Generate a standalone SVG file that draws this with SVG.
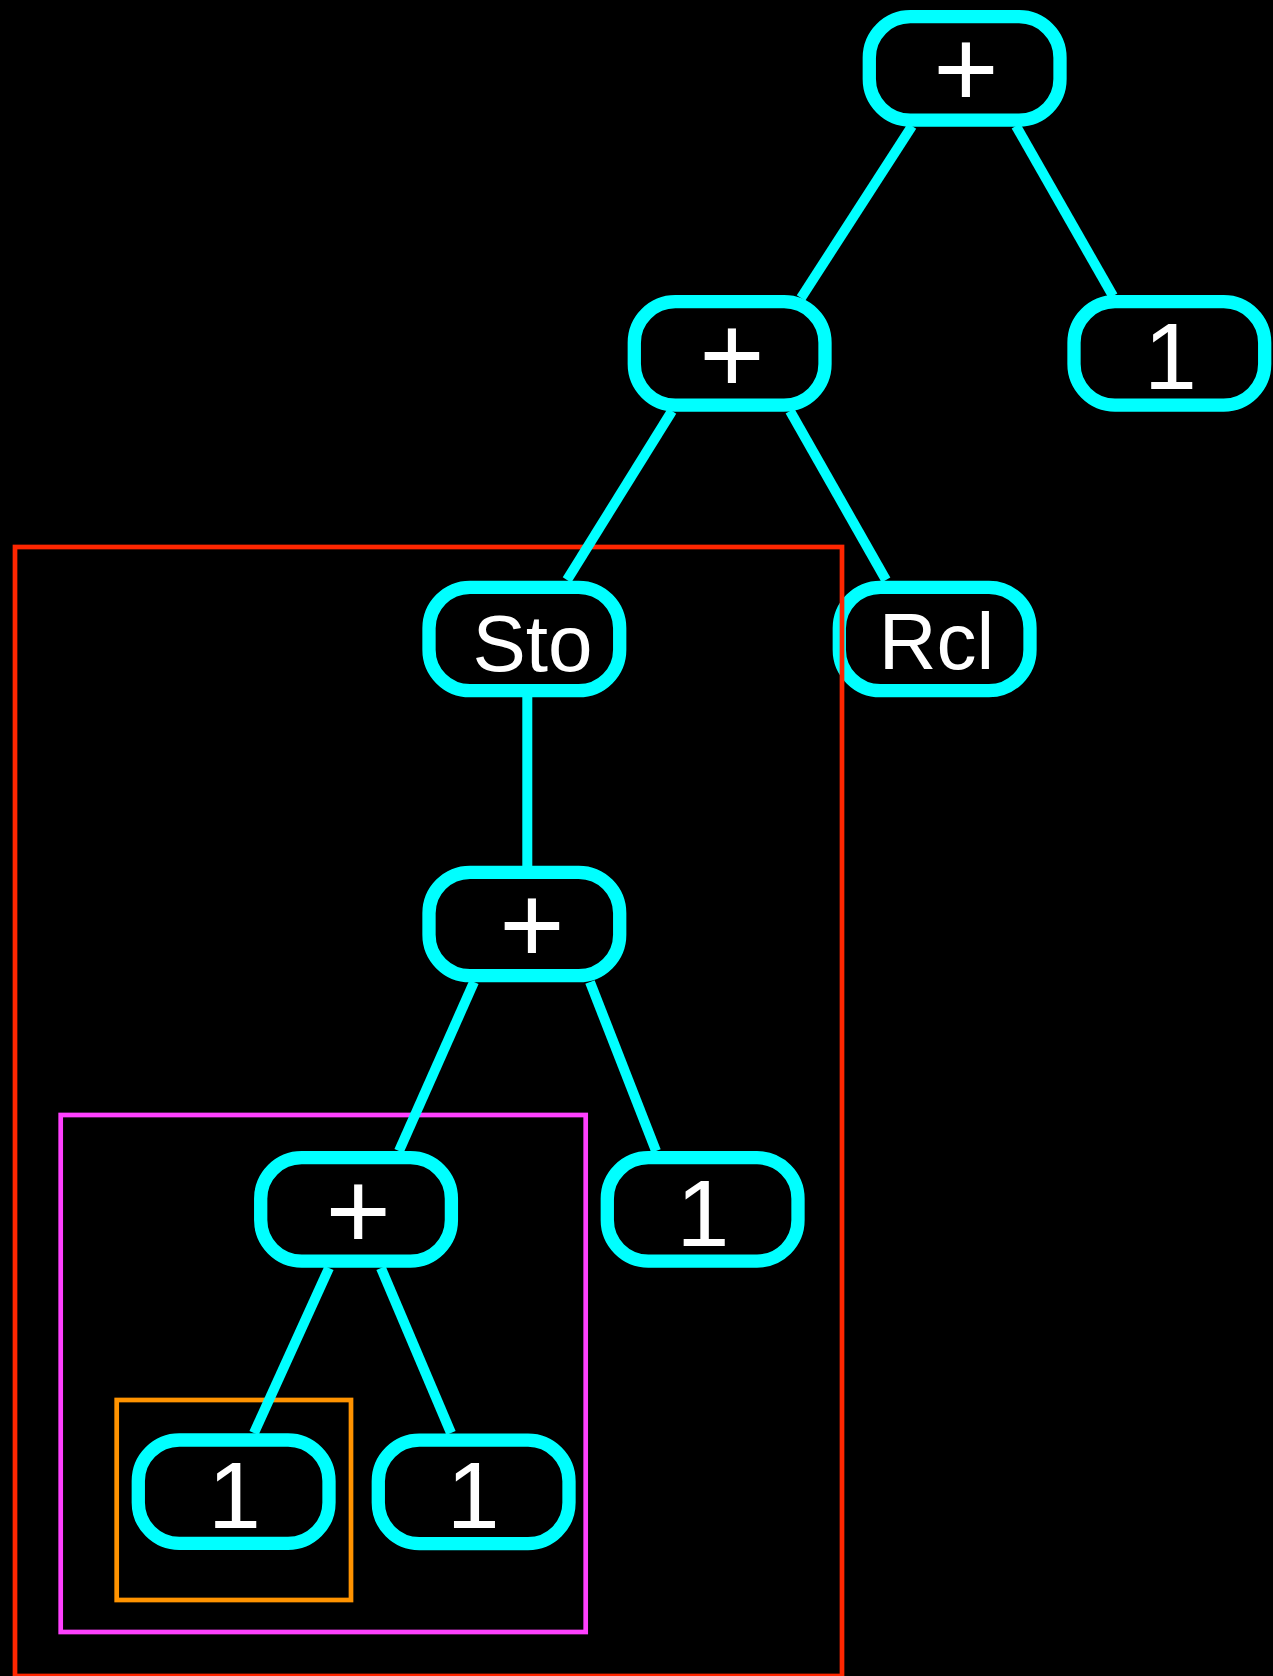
<svg xmlns="http://www.w3.org/2000/svg" width="1273" height="1676" viewBox="0 0 1273 1676">
<style>
.node rect{fill:#000;stroke:#00FFFF;stroke-width:13.3}
.node text{fill:#fff;font-family:"Liberation Sans",Arial,sans-serif;text-anchor:middle}
.op{font-size:112px}
.num{font-size:95px}
.word{font-size:80px}
.edge{stroke:#00FFFF;stroke-width:10;fill:none}
.box{fill:none;stroke-width:4.7}
</style>
<rect x="0" y="0" width="1273" height="1676" fill="#000"/>
<g id="node-root"><g class="node"><rect x="869.3" y="16.7" width="190.7" height="103.4" rx="41"/><text class="op" x="966" y="107">+</text></g></g>
<g id="node-one-a"><g class="node"><rect x="1074" y="301.7" width="190.7" height="103.4" rx="41"/><text class="num" x="1170.5" y="388.5">1</text></g></g>
<g id="node-plus-b"><g class="node"><rect x="634.3" y="301.7" width="190.7" height="103.4" rx="41"/><text class="op" x="732" y="393">+</text></g></g>
<g id="node-sto"><g class="node"><rect x="429" y="587.3" width="190.7" height="103.4" rx="41"/><text class="word" x="532.5" y="670.5">Sto</text></g></g>
<g id="node-rcl"><g class="node"><rect x="839.3" y="587.3" width="190.7" height="103.4" rx="41"/><text class="word" x="936.5" y="668.7">Rcl</text></g></g>
<g id="node-plus-c"><g class="node"><rect x="429" y="872.3" width="190.7" height="103.4" rx="41"/><text class="op" x="532" y="963">+</text></g></g>
<g id="node-plus-d"><g class="node"><rect x="260.7" y="1157.7" width="190.7" height="103.4" rx="41"/><text class="op" x="358.3" y="1248.7">+</text></g></g>
<g id="node-one-b"><g class="node"><rect x="607.3" y="1157.7" width="190.7" height="103.4" rx="41"/><text class="num" x="703" y="1246">1</text></g></g>
<g id="node-one-c"><g class="node"><rect x="138.3" y="1440" width="190.7" height="103.4" rx="41"/><text class="num" x="234.3" y="1528">1</text></g></g>
<g id="node-one-d"><g class="node"><rect x="378.3" y="1440.2" width="190.7" height="103.4" rx="41"/><text class="num" x="473.2" y="1528.3">1</text></g></g>
<g id="boxes">
<rect class="box" stroke="#FF2600" x="15" y="547" width="827" height="1129"/>
<rect class="box" stroke="#FF40FF" x="60.7" y="1115" width="525" height="517"/>
<rect class="box" stroke="#FF9300" x="116.7" y="1400" width="234.3" height="200"/>
</g>
<g id="connectors">
<line class="edge" x1="912" y1="126" x2="801" y2="298"/>
<line class="edge" x1="1016" y1="126" x2="1113" y2="296"/>
<line class="edge" x1="672" y1="411" x2="567" y2="580"/>
<line class="edge" x1="790" y1="411" x2="886" y2="580"/>
<line class="edge" x1="527.3" y1="697" x2="527.3" y2="866"/>
<line class="edge" x1="474" y1="982" x2="399" y2="1151"/>
<line class="edge" x1="590" y1="982" x2="656" y2="1151"/>
<line class="edge" x1="329" y1="1268" x2="254" y2="1433"/>
<line class="edge" x1="381" y1="1268" x2="451" y2="1433"/>
</g>
</svg>
